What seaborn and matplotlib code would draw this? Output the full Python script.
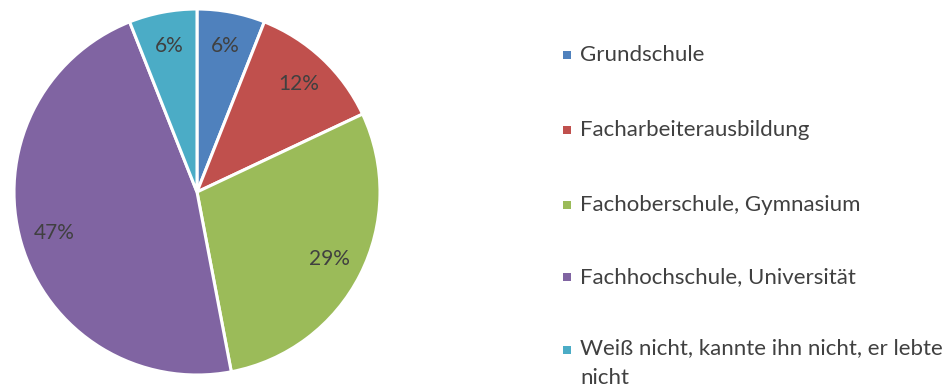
import matplotlib
matplotlib.use("Agg")
import matplotlib.pyplot as plt
from matplotlib.patches import Rectangle
import seaborn as sns

# Highest school qualification of the father (share of respondents, %)
categories = [
    "Grundschule",
    "Facharbeiterausbildung",
    "Fachoberschule, Gymnasium",
    "Fachhochschule, Universität",
    "Weiß nicht, kannte ihn nicht, er lebte\nnicht",
]
shares = [6, 12, 29, 47, 6]
colors = ["#4F81BD", "#C0504D", "#9BBB59", "#8064A2", "#4BACC6"]

sns.set_theme(style="white")
plt.rcParams["font.family"] = ["Lato", "DejaVu Sans"]
text_color = "#404040"

W, H = 951, 390
fig = plt.figure(figsize=(W / 100, H / 100), dpi=100)

# Pie axes: centre (197, 192) px, radius 183 px
cx, cy, r = 197, 192, 183
ax = fig.add_axes([(cx - r) / W, (H - cy - r) / H, 2 * r / W, 2 * r / H])
wedges, _, autotexts = ax.pie(
    shares,
    colors=colors,
    startangle=90,
    counterclock=False,
    radius=1.0,
    autopct=lambda p: f"{p:.0f}%",
    pctdistance=0.81,
    wedgeprops=dict(edgecolor="white", linewidth=2.2),
    textprops=dict(color=text_color, fontsize=15),
)
ax.set_xlim(-1, 1)
ax.set_ylim(-1, 1)
ax.set_aspect("equal")
ax.axis("off")

# Legend drawn as square markers with labels on the right
rows_y = [55, 130, 205, 277, 350]
marker_x, text_x, msize = 563, 580, 8
fs = 16
for y, label, color in zip(rows_y, categories, colors):
    fig.patches.append(
        Rectangle((marker_x / W, (H - y - msize / 2) / H), msize / W, msize / H,
                  transform=fig.transFigure, facecolor=color, edgecolor="none")
    )
    if "\n" in label:
        fig.text(text_x / W, (H - y + 12) / H, label, ha="left", va="top",
                 fontsize=fs, color=text_color, linespacing=1.6)
    else:
        fig.text(text_x / W, (H - y) / H, label, ha="left", va="center",
                 fontsize=fs, color=text_color)

fig.savefig("out.png", dpi=100, facecolor="white")
